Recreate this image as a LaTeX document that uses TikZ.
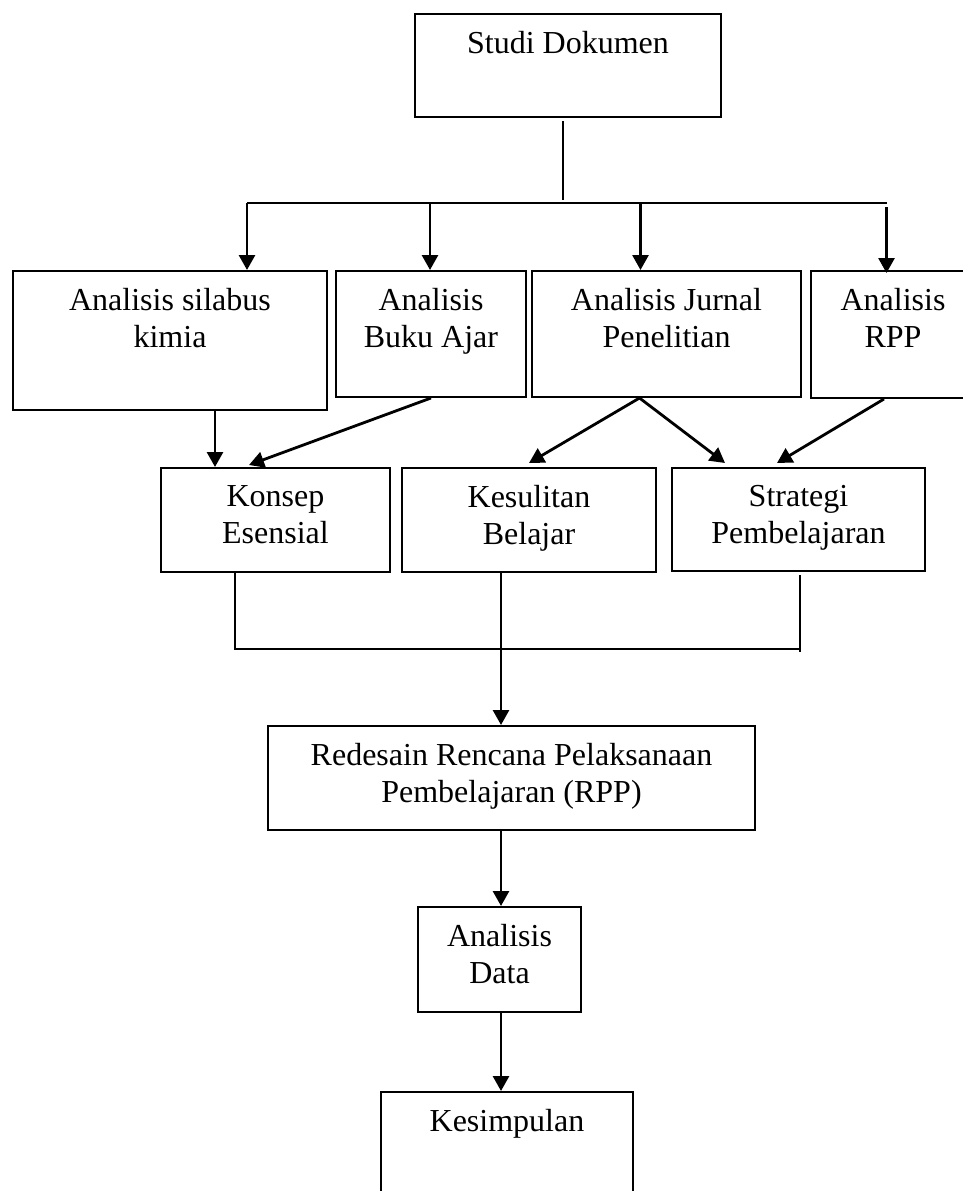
\documentclass[tikz,border=0pt]{standalone}
\usepackage{fontspec}
\setmainfont{Liberation Serif}
\usetikzlibrary{arrows.meta,calc}
\begin{document}
\begin{tikzpicture}[x=1pt,y=-1pt,
  box/.style={draw, line width=2pt, inner sep=0pt},
  lbl/.style={font=\fontsize{32}{37}\selectfont, align=center, inner sep=0pt, anchor=north},
  arr/.style={line width=2.8pt, -{Triangle[length=15pt,width=16pt]}},
  ln/.style={line width=2pt}]
\clip (0,0) rectangle (963,1191);
\fill[white] (0,0) rectangle (963,1191);
% boxes
\node[box, minimum width=306pt, minimum height=103pt] (studi) at (568,65.5) {};
\node[box, minimum width=314pt, minimum height=139pt] (b1) at (170,340.5) {};
\node[box, minimum width=190pt, minimum height=126pt] (b2) at (431,334) {};
\node[box, minimum width=269pt, minimum height=126pt] (b3) at (666.5,334) {};
\node[box, minimum width=164pt, minimum height=127pt] (b4) at (893,334.5) {};
\node[box, minimum width=229pt, minimum height=104pt] (konsep) at (275.5,520) {};
\node[box, minimum width=254pt, minimum height=104pt] (kesulitan) at (529,520) {};
\node[box, minimum width=253pt, minimum height=103pt] (strategi) at (798.5,519.5) {};
\node[box, minimum width=487pt, minimum height=104pt] (redesain) at (511.5,778) {};
\node[box, minimum width=163pt, minimum height=105pt] (data) at (499.5,959.5) {};
\node[box, minimum width=252pt, minimum height=128pt] (kesimpulan) at (507,1156) {};
% labels
\node[lbl] (tstudi) at ($(studi.north)+(0,18)$) {Studi Dokumen};
\node[lbl] (tb1) at ($(b1.north)+(0,18)$) {Analisis silabus\\kimia};
\node[lbl] (tb2) at ($(b2.north)+(0,18)$) {Analisis\\Buku Ajar};
\node[lbl] (tb3) at ($(b3.north)+(0,18)$) {Analisis Jurnal\\Penelitian};
\node[lbl] (tb4) at ($(b4.north)+(0,18)$) {Analisis\\RPP};
\node[lbl] (tkonsep) at ($(konsep.north)+(0,18)$) {Konsep\\Esensial};
\node[lbl] (tkes) at ($(kesulitan.north)+(0,18)$) {Kesulitan\\Belajar};
\node[lbl] (tstr) at ($(strategi.north)+(0,18)$) {Strategi\\Pembelajaran};
\node[lbl] (tred) at ($(redesain.north)+(0,18)$) {Redesain Rencana Pelaksanaan\\Pembelajaran (RPP)};
\node[lbl] (tdata) at ($(data.north)+(0,18)$) {Analisis\\Data};
\node[lbl] (tkesim) at ($(kesimpulan.north)+(0,18)$) {Kesimpulan};
% top bus
\coordinate (sd) at (563,203);
\coordinate (bus1) at (247,203);
\coordinate (bus2) at (430,203);
\coordinate (bus3) at (640.5,203);
\coordinate (bus4) at (886.5,203);
\coordinate (bus4s) at (886.5,207);
\draw[ln] ($(sd |- studi.south)+(0,3)$) -- ($(sd)+(0,-3)$);
\draw[line width=2.4pt] (bus1) -- (bus4);
\draw[arr] (bus1) -- (bus1 |- b1.north);
\draw[arr] (bus2) -- (bus2 |- b2.north);
\draw[arr] (bus3) -- (bus3 |- b3.north);
\draw[arr] (bus4s) -- ($(bus4 |- b4.north)+(0,3)$);
% middle arrows
\draw[arr] ($(b1.south west)+(203,0)$) -- ($(konsep.north west)+(55,0)$);
\draw[arr] (b2.south) -- ($(konsep.north west)+(89,-2)$);
\draw[arr] ($(b3.south west)+(108.5,0)$) -- ($(kesulitan.north)+(0,-4)$);
\draw[arr] ($(b3.south west)+(108.5,0)$) -- ($(strategi.north west)+(54,-4)$);
\draw[arr] ($(b4.south west)+(74,0)$) -- ($(strategi.north west)+(106,-4)$);
% lower bus
\coordinate (lb1) at (234.5,649);
\coordinate (lb2) at (800,649);
\coordinate (mid) at (501,649);
\draw[ln] (lb1 |- konsep.south) -- (lb1) -- (lb2);
\draw[ln] ($(lb2 |- strategi.south)+(0,3)$) -- ($(lb2)+(0,3)$);
\draw[arr] (mid |- kesulitan.south) -- (mid |- redesain.north);
\draw[arr] (mid |- redesain.south) -- (mid |- data.north);
\draw[arr] (mid |- data.south) -- (mid |- kesimpulan.north);
\end{tikzpicture}
\end{document}
